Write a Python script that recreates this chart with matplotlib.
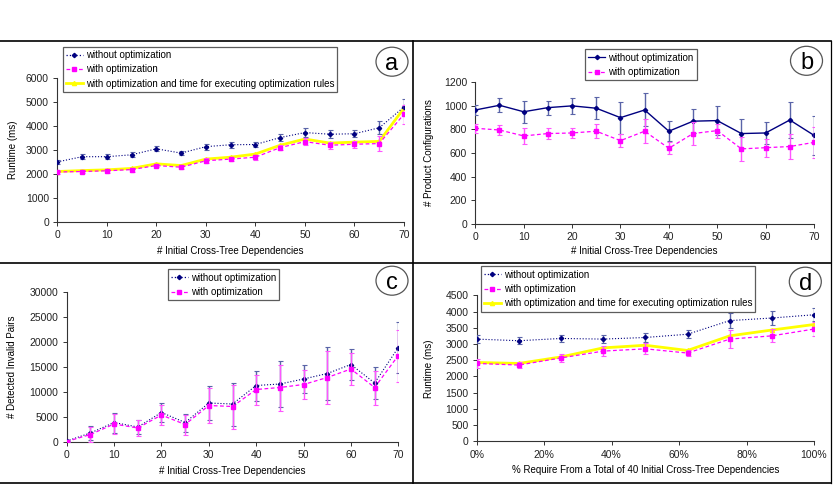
import numpy as np
import matplotlib
matplotlib.use("Agg")
import matplotlib.pyplot as plt
from matplotlib.patches import Ellipse
from matplotlib.lines import Line2D

plt.rcParams['font.family'] = ['Liberation Sans', 'DejaVu Sans']

W, H = 835, 486

# ---------------- data ----------------
deps = [0, 5, 10, 15, 20, 25, 30, 35, 40, 45, 50, 55, 60, 65, 70]

a_without = [2500, 2720, 2720, 2800, 3050, 2870, 3140, 3220, 3230, 3520, 3730, 3660, 3680, 3930, 4800]
a_without_err = [100, 100, 100, 100, 100, 100, 120, 120, 120, 130, 170, 170, 150, 280, 350]
a_with = [2080, 2100, 2130, 2180, 2350, 2280, 2550, 2620, 2700, 3100, 3350, 3200, 3240, 3270, 4500]
a_with_err = [80, 80, 80, 80, 80, 80, 100, 100, 100, 120, 150, 150, 150, 300, 400]
a_with_rules = [2100, 2140, 2170, 2230, 2420, 2350, 2620, 2700, 2830, 3200, 3460, 3290, 3330, 3360, 4750]

b_without = [965, 1005, 950, 985, 1000, 980, 900, 965, 785, 870, 875, 765, 770, 880, 750]
b_without_err = [40, 60, 95, 60, 65, 95, 135, 140, 85, 100, 120, 120, 90, 150, 165]
b_with = [810, 795, 745, 765, 770, 785, 705, 785, 640, 765, 790, 635, 645, 655, 690]
b_with_err = [40, 40, 65, 50, 45, 60, 55, 100, 50, 100, 60, 105, 75, 105, 130]

c_without = [200, 1800, 3900, 3000, 5900, 3900, 7800, 7600, 11300, 11600, 12600, 13700, 15500, 11800, 18900]
c_without_err = [100, 1400, 2000, 1400, 1900, 1800, 3400, 4300, 3000, 4600, 2800, 5300, 3100, 3200, 5100]
c_with = [100, 1500, 3600, 2800, 5400, 3500, 7300, 7100, 10500, 10900, 11500, 12900, 14600, 10900, 17300]
c_with_err = [100, 1500, 2000, 1600, 2000, 2000, 3500, 4400, 3000, 4600, 2900, 5300, 3200, 3400, 5200]

require_pct = [0, 12.5, 25, 37.5, 50, 62.5, 75, 87.5, 100]
d_without = [3150, 3100, 3170, 3150, 3200, 3300, 3720, 3800, 3900]
d_without_err = [120, 100, 120, 130, 140, 130, 230, 220, 200]
d_with = [2400, 2350, 2570, 2780, 2850, 2720, 3150, 3250, 3460]
d_with_err = [130, 100, 120, 150, 170, 100, 280, 200, 220]
d_with_rules = [2430, 2400, 2600, 2880, 2960, 2800, 3250, 3430, 3600]

labels3 = ["without optimization", "with optimization",
           "with optimization and time for executing optimization rules"]

NAVY = "#000080"
NAVY_ERR = "#5a64a8"
MAG = "#ff00ff"
MAG_ERR = "#ff55ff"
YEL = "#ffff00"

fig = plt.figure(figsize=(W / 100, H / 100), dpi=100)


def fig_axes(left, right, top, bottom):
    return fig.add_axes([left / W, 1 - bottom / H, (right - left) / W, (bottom - top) / H])


def style(ax):
    for s in ("top", "right"):
        ax.spines[s].set_visible(False)
    for s in ("left", "bottom"):
        ax.spines[s].set_color("#333333")
        ax.spines[s].set_linewidth(0.8)
    ax.tick_params(labelsize=7.5, length=3, width=0.7, colors="#333333", labelcolor="#222222",
                   direction="out", pad=3)
    ax.patch.set_alpha(0)


def plot_without(ax, x, y, e, ls):
    ax.errorbar(x, y, yerr=e, color=NAVY, ecolor=NAVY_ERR, elinewidth=1.0, capsize=1.8, capthick=0.8,
                linestyle=ls, linewidth=0.8 if ls == ":" else 1.0, marker="D", markersize=2.2, zorder=3)


def plot_with(ax, x, y, e):
    ax.errorbar(x, y, yerr=e, color=MAG, ecolor=MAG_ERR, elinewidth=1.0, capsize=1.8, capthick=0.8,
                linestyle="--", dashes=(3, 2), linewidth=0.9, marker="s", markersize=3, zorder=4)


def plot_rules(ax, x, y):
    ax.plot(x, y, color=YEL, linewidth=2.0, marker="^", markersize=3, zorder=2.5)


def legend_box(handles, labels, left, top, minwidth=None):
    leg = fig.legend(handles, labels, loc="upper left",
                     bbox_to_anchor=(left / W, 1 - top / H),
                     fontsize=7, frameon=True, fancybox=False, borderaxespad=0,
                     handlelength=1.7, handletextpad=0.3, labelspacing=0.45, borderpad=0.35)
    leg.get_frame().set_edgecolor("#333333")
    leg.get_frame().set_linewidth(0.9)
    return leg


def h_without(ls):
    return Line2D([], [], color=NAVY, linestyle=ls, linewidth=0.9, marker="D", markersize=2.2)


h_with = Line2D([], [], color=MAG, linestyle="--", dashes=(3, 2), linewidth=0.9, marker="s", markersize=3)
h_rules = Line2D([], [], color=YEL, linewidth=2.0, marker="^", markersize=3)

XL = "# Initial Cross-Tree Dependencies"

# ---------------- panel a ----------------
ax = fig_axes(57.3, 404, 78.3, 221.7)
plot_rules(ax, deps, a_with_rules)
plot_with(ax, deps, a_with, a_with_err)
plot_without(ax, deps, a_without, a_without_err, ":")
ax.set_xlim(0, 70)
ax.set_ylim(0, 6000)
ax.set_xticks(range(0, 71, 10))
ax.set_yticks(range(0, 6001, 1000))
ax.set_xlabel(XL, fontsize=7, labelpad=4)
ax.set_ylabel("Runtime (ms)", fontsize=7, labelpad=6)
style(ax)
legend_box([h_without(":"), h_with, h_rules], labels3, 62.7, 46.7)

# ---------------- panel b ----------------
ax = fig_axes(475.3, 814, 82.3, 223.7)
plot_with(ax, deps, b_with, b_with_err)
plot_without(ax, deps, b_without, b_without_err, "-")
ax.set_xlim(0, 70)
ax.set_ylim(0, 1200)
ax.set_xticks(range(0, 71, 10))
ax.set_yticks(range(0, 1201, 200))
ax.set_xlabel(XL, fontsize=7, labelpad=3)
ax.set_ylabel("# Product Configurations", fontsize=7, labelpad=7)
style(ax)
legend_box([h_without("-"), h_with], labels3[:2], 585, 49.3)

# ---------------- panel c ----------------
ax = fig_axes(66.7, 398.3, 292, 442)
plot_with(ax, deps, c_with, c_with_err)
plot_without(ax, deps, c_without, c_without_err, ":")
ax.set_xlim(0, 70)
ax.set_ylim(0, 30000)
ax.set_xticks(range(0, 71, 10))
ax.set_yticks(range(0, 30001, 5000))
ax.set_xlabel(XL, fontsize=7, labelpad=4)
ax.set_ylabel("# Detected Invalid Pairs", fontsize=7, labelpad=9)
style(ax)
legend_box([h_without(":"), h_with], labels3[:2], 167.7, 269.3)

# ---------------- panel d ----------------
ax = fig_axes(476.7, 814, 295.3, 441.3)
plot_rules(ax, require_pct, d_with_rules)
plot_with(ax, require_pct, d_with, d_with_err)
plot_without(ax, require_pct, d_without, d_without_err, ":")
ax.set_xlim(0, 100)
ax.set_ylim(0, 4500)
ax.set_xticks(range(0, 101, 20))
ax.set_xticklabels([f"{v}%" for v in range(0, 101, 20)])
ax.set_yticks(range(0, 4501, 500))
ax.set_xlabel("% Require From a Total of 40 Initial Cross-Tree Dependencies", fontsize=7, labelpad=4)
ax.set_ylabel("Runtime (ms)", fontsize=7, labelpad=8)
style(ax)
legend_box([h_without(":"), h_with, h_rules], labels3, 480.7, 266.3)

# ---------------- panel letters ----------------
for letter, cx, cy in (("a", 392, 61.7), ("b", 806.5, 60.8), ("c", 392, 280.7), ("d", 805.3, 281.7)):
    fig.add_artist(Ellipse((cx / W, 1 - cy / H), 32 / W, 29 / H, transform=fig.transFigure,
                           facecolor="white", edgecolor="#555555", linewidth=0.9))
    fig.text(cx / W, 1 - cy / H, letter, fontsize=17, ha="center", va="center_baseline")

# ---------------- frame lines ----------------
def fline(x0, y0, x1, y1, lw=1.2):
    fig.add_artist(Line2D([x0 / W, x1 / W], [1 - y0 / H, 1 - y1 / H], transform=fig.transFigure,
                          color="black", linewidth=lw))

fline(0, 41, 831, 41)
fline(0, 263, 831, 263)
fline(0, 483, 831, 483)
fline(413, 41, 413, 483)
fline(831, 41, 831, 483, lw=0.9)

fig.savefig("out.png", dpi=100)
